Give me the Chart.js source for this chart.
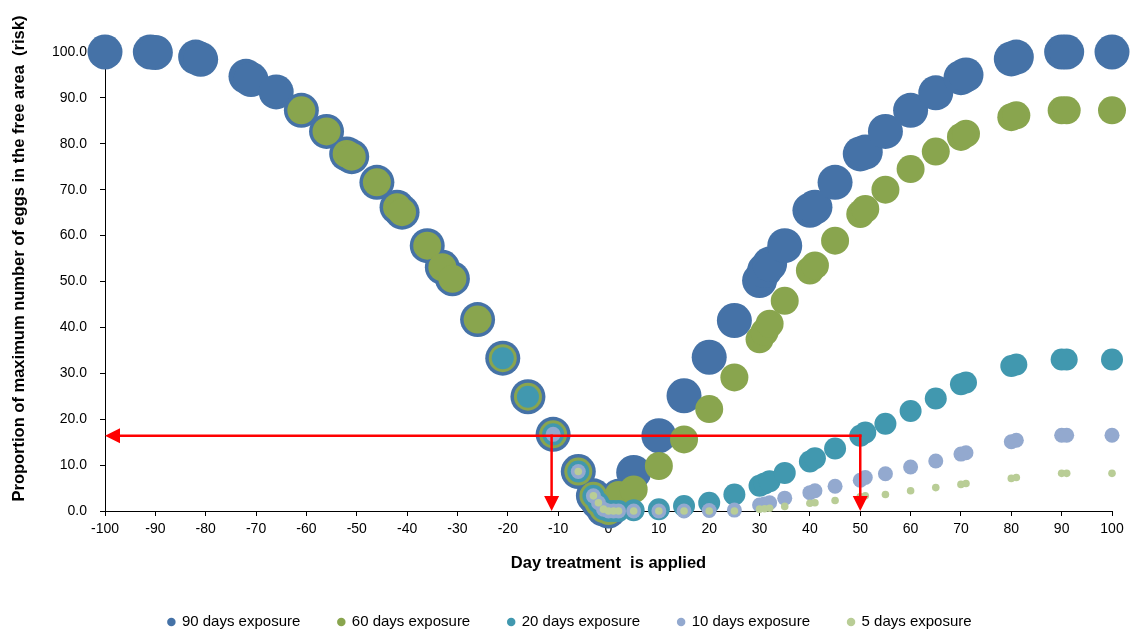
<!DOCTYPE html>
<html>
<head>
<meta charset="utf-8">
<script src="https://cdn.jsdelivr.net/npm/chart.js@4"></script>
<style>
  html, body { margin: 0; padding: 0; background: #fff; }
</style>
</head>
<body>
<canvas id="riskChart" width="1134" height="630"></canvas>
<script>
// data
const days = [-100, -91, -90, -82, -81, -72, -71, -66, -61, -56, -52, -51, -46, -42, -41, -36, -33, -31,
  -26, -21, -16, -11, -6, -3, -2, -1, 0, 1, 2, 5, 10, 15, 20, 25, 30, 31, 32, 35, 40, 41, 45,
  50, 51, 55, 60, 65, 70, 71, 80, 81, 90, 91, 100];

const exposure90 = [100, 100, 99.9, 98.9, 98.4, 94.7, 94.0, 91.3, 87.3, 82.7, 77.8, 77.2, 71.6, 66.2, 65.1, 57.8, 53.1, 50.6,
  41.7, 33.3, 24.9, 16.7, 8.6, 3.3, 1.8, 0.4, 0, 1.6, 3.2, 8.4, 16.4, 25.1, 33.5, 41.5, 50.2, 52.4, 53.8, 57.8, 65.5, 66.2, 71.6,
  77.8, 78.2, 82.7, 87.3, 91.1, 94.4, 95.0, 98.5, 98.9, 100, 100, 100];
const exposure60 = [null, null, null, null, null, null, null, null, 87.3, 82.7, 77.8, 77.2, 71.6, 66.2, 65.1, 57.8, 53.1, 50.6,
  41.7, 33.3, 24.9, 16.7, 8.6, 3.3, 1.8, 0.4, 0, 1.7, 3.5, 4.7, 9.8, 15.6, 22.2, 29.1, 37.4, 39.0, 40.8, 45.8, 52.4, 53.5, 58.9,
  64.7, 65.8, 70.0, 74.5, 78.3, 81.5, 82.2, 85.8, 86.2, 87.3, 87.3, 87.3];
const exposure20 = [null, null, null, null, null, null, null, null, null, null, null, null, null, null, null, null, null, null,
  null, 33.3, 24.9, 16.7, 8.6, 3.3, 1.8, 0.4, 0, 0, 0, 0.15, 0.4, 1.1, 1.8, 3.6, 5.5, 6.0, 6.5, 8.3, 10.8, 11.5, 13.6,
  16.4, 17.1, 19.0, 21.8, 24.5, 27.6, 28.0, 31.6, 31.9, 33.0, 33.0, 33.0];
const exposure10 = [null, null, null, null, null, null, null, null, null, null, null, null, null, null, null, null, null, null,
  null, null, null, 16.7, 8.6, 3.3, 1.8, 0.4, 0, 0, 0, 0, 0, 0, 0.1, 0.2, 1.3, 1.5, 1.8, 2.8, 4.0, 4.4, 5.4,
  6.7, 7.3, 8.1, 9.6, 10.9, 12.4, 12.7, 15.1, 15.4, 16.5, 16.5, 16.5];
const exposure5 = [null, null, null, null, null, null, null, null, null, null, null, null, null, null, null, null, null, null,
  null, null, null, null, 8.6, 3.3, 1.8, 0.4, 0, 0, 0, 0, 0, 0, 0, 0, 0.4, 0.5, 0.6, 1.0, 1.7, 1.8, 2.3,
  3.1, 3.3, 3.6, 4.4, 5.1, 5.8, 6.0, 7.1, 7.3, 8.2, 8.2, 8.2];

const seriesNames = ['90 days exposure', '60 days exposure', '20 days exposure', '10 days exposure', '5 days exposure'];
const seriesValues = [exposure90, exposure60, exposure20, exposure10, exposure5];
const seriesColors = ['#4572A7', '#89A54E', '#4198AF', '#93A9CF', '#B9CD96'];
const seriesRadius = [17.5, 14, 11, 7.5, 3.8];

// red arrows (data units): start -> tip
const arrowStarts = [[50, 16.4], [-11.3, 16.4], [50, 16.4]];
const arrowEnds = [[-100, 16.4], [-11.3, 0], [50, 0]];

const yTicks = [0, 10, 20, 30, 40, 50, 60, 70, 80, 90, 100];

//setup
Chart.defaults.font.family = 'Arial, "Liberation Sans", sans-serif';
Chart.defaults.color = '#000';

const datasets = seriesNames.map((name, s) => ({
  label: name,
  data: days.map((d, i) => ({x: d, y: seriesValues[s][i]})).filter(p => p.y !== null),
  backgroundColor: seriesColors[s],
  borderColor: seriesColors[s],
  pointBackgroundColor: seriesColors[s],
  pointBorderColor: seriesColors[s],
  pointBorderWidth: 0,
  pointRadius: seriesRadius[s],
  pointHoverRadius: seriesRadius[s],
  order: seriesNames.length - s,   // 90 days underneath, 5 days on top
  clip: false
}));

const arrowPlugin = {
  id: 'redArrows',
  afterDatasetsDraw(chart) {
    const {ctx, scales: {x, y}} = chart;
    ctx.save();
    ctx.strokeStyle = '#ff0000';
    ctx.fillStyle = '#ff0000';
    ctx.lineWidth = 2.5;
    ctx.lineCap = 'square';
    arrowStarts.forEach((s, i) => {
      const e = arrowEnds[i];
      const x1 = x.getPixelForValue(s[0]), y1 = y.getPixelForValue(s[1]);
      const x2 = x.getPixelForValue(e[0]), y2 = y.getPixelForValue(e[1]);
      const ang = Math.atan2(y2 - y1, x2 - x1);
      const len = 15, half = 7.5;
      const bx = x2 - len * Math.cos(ang), by = y2 - len * Math.sin(ang);
      ctx.beginPath();
      ctx.moveTo(x1, y1);
      ctx.lineTo(bx, by);
      ctx.stroke();
      ctx.beginPath();
      ctx.moveTo(x2, y2);
      ctx.lineTo(bx + half * Math.sin(ang), by - half * Math.cos(ang));
      ctx.lineTo(bx - half * Math.sin(ang), by + half * Math.cos(ang));
      ctx.closePath();
      ctx.fill();
    });
    ctx.restore();
  }
};

// legend sits a little right of centre in the original
const legendShift = {
  id: 'legendShift',
  afterLayout(chart) {
    chart.legend.left += 14;
    chart.legend.right += 14;
  }
};

// configuration
const config = {
  type: 'scatter',
  data: {datasets: datasets},
  options: {
    responsive: false,
    animation: false,
    events: [],
    layout: {padding: {top: 52, right: 22, bottom: -9.5, left: 0}},
    plugins: {
      legend: {
        position: 'bottom',
        labels: {
          usePointStyle: true,
          pointStyle: 'circle',
          boxWidth: 6,
          boxHeight: 6,
          padding: 38,
          font: {size: 15},
          sort: (a, b) => a.datasetIndex - b.datasetIndex
        }
      },
      tooltip: {enabled: false}
    },
    scales: {
      x: {
        type: 'linear',
        min: -100,
        max: 100,
        ticks: {stepSize: 10, autoSkip: false, maxRotation: 0, padding: 5, font: {size: 14}},
        grid: {drawOnChartArea: false, tickLength: 5, color: '#000'},
        border: {color: '#000', width: 1},
        title: {display: true, text: 'Day treatment  is applied', font: {size: 16.5, weight: 'bold'}, padding: {top: 0, bottom: 3.6}},
        afterFit: s => { s.height = 65.5; }
      },
      y: {
        type: 'linear',
        min: 0,
        max: 100,
        afterBuildTicks: s => { s.ticks = yTicks.map(v => ({value: v})); },
        ticks: {padding: 13, font: {size: 14}, callback: v => v.toFixed(1)},
        grid: {drawOnChartArea: false, tickLength: 5, color: '#000'},
        border: {color: '#000', width: 1},
        title: {display: true, text: '          Proportion of maximum number of eggs in the free area  (risk)', font: {size: 16.5, weight: 'bold'}, padding: {top: 10, bottom: 0}},
        afterFit: s => { s.width = 105; }
      }
    }
  },
  plugins: [arrowPlugin, legendShift]
};

//render
var riskChart = new Chart(document.getElementById('riskChart'), config);
</script>
</body>
</html>
